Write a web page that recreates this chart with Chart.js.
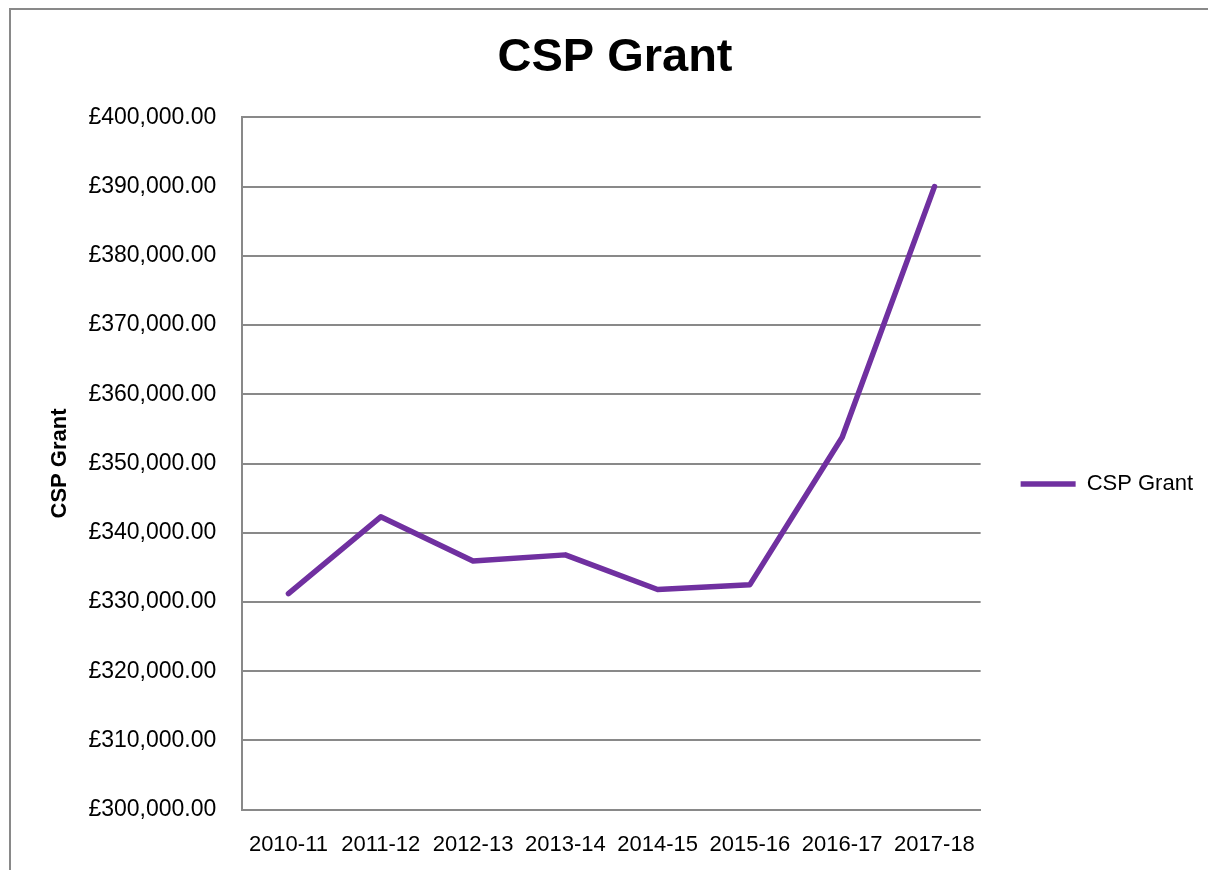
<!DOCTYPE html>
<html>
<head>
<meta charset="utf-8">
<script src="https://cdn.jsdelivr.net/npm/chart.js@4"></script>
<style>
  body { margin: 0; background: #fff; overflow: hidden; }
  #marco { position: absolute; left: 9px; top: 8px; width: 1220px; height: 880px; border: 2px solid #898989; }
  #caja { position: absolute; left: 0; top: 0; width: 1208px; height: 870px; }
</style>
</head>
<body>
<div id="marco"></div>
<div id="caja"><canvas id="graficoLinea"></canvas></div>
<script>
/** datos del grafico */
let periodos = ["2010-11", "2011-12", "2012-13", "2013-14", "2014-15", "2015-16", "2016-17", "2017-18"];
let subvencion = [331200, 342300, 335900, 336800, 331800, 332500, 353800, 390000];
let ejeMin = 300000;
let ejeMax = 400000;
let paso = 10000;

function formatoLibras(v) {
    return "£" + Number(v).toLocaleString("en-GB", { minimumFractionDigits: 2, maximumFractionDigits: 2 });
}

const ctx = document.getElementById("graficoLinea");
new Chart(ctx, {
    type: "line",
    data: {
        labels: periodos,
        datasets: [{
            label: "CSP Grant",
            data: subvencion,
            borderColor: "#7030A0",
            backgroundColor: "#7030A0",
            borderWidth: 5.5,
            pointRadius: 0,
            tension: 0,
            borderJoinStyle: "round",
            borderCapStyle: "round"
        }]
    },
    options: {
        responsive: true,
        maintainAspectRatio: false,
        animation: false,
        layout: { padding: { left: 27, right: 5, top: 0, bottom: -10 } },
        plugins: {
            title: {
                display: true,
                text: "CSP Grant",
                color: "#000",
                font: { family: "Liberation Sans", size: 47, weight: "bold" },
                padding: { top: 30, bottom: 31 }
            },
            legend: {
                position: "right",
                title: {
                    display: true,
                    text: " ",
                    font: { size: 10 },
                    padding: { top: 0, bottom: 76 }
                },
                labels: {
                    color: "#000",
                    font: { family: "Liberation Sans", size: 22 },
                    usePointStyle: true,
                    pointStyle: "line",
                    pointStyleWidth: 55,
                    padding: 40
                }
            },
            tooltip: { enabled: false }
        },
        scales: {
            x: {
                offset: true,
                grid: { display: false, drawTicks: false },
                border: { color: "#898989", width: 2 },
                ticks: {
                    color: "#000",
                    font: { family: "Liberation Sans", size: 22 },
                    maxRotation: 0,
                    autoSkip: false,
                    padding: 22
                }
            },
            y: {
                min: ejeMin,
                max: ejeMax,
                grid: { color: "#898989", lineWidth: 2, drawTicks: false },
                border: { color: "#898989", width: 2 },
                ticks: {
                    stepSize: paso,
                    color: "#000",
                    font: { family: "Liberation Sans", size: 23 },
                    padding: 26,
                    callback: function (v) { return formatoLibras(v); }
                },
                title: {
                    display: true,
                    text: "CSP Grant",
                    color: "#000",
                    font: { family: "Liberation Sans", size: 22, weight: "bold" },
                    padding: { top: 20, bottom: -11 }
                }
            }
        }
    }
});
</script>
</body>
</html>
